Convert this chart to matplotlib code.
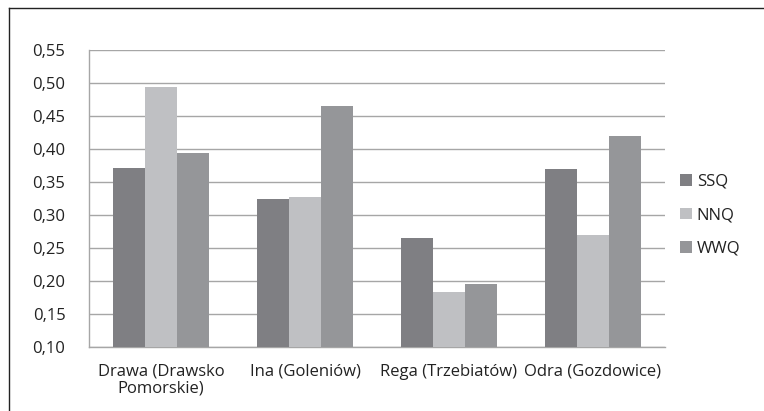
import numpy as np
import matplotlib
matplotlib.use('Agg')
import matplotlib.pyplot as plt
from matplotlib.lines import Line2D

# Data
categories = ['Drawa (Drawsko\nPomorskie)', 'Ina (Goleniów)', 'Rega (Trzebiatów)', 'Odra (Gozdowice)']
ssq = [0.371, 0.325, 0.265, 0.370]
nnq = [0.494, 0.328, 0.183, 0.270]
wwq = [0.394, 0.465, 0.196, 0.420]
series_names = ['SSQ', 'NNQ', 'WWQ']
colors = ['#7f7f83', '#bfc0c3', '#959699']
yticks = [0.10, 0.15, 0.20, 0.25, 0.30, 0.35, 0.40, 0.45, 0.50, 0.55]

plt.rcParams['font.family'] = ['Open Sans', 'DejaVu Sans']
txt = '#222222'

fig = plt.figure(figsize=(7.64, 4.11), dpi=100)
ax = fig.add_axes([89 / 764, 1 - 347 / 411, (665 - 89) / 764, (347 - 50) / 411])

x = np.arange(len(categories))
w = 0.222
for i, (vals, name) in enumerate(zip([ssq, nnq, wwq], series_names)):
    ax.bar(x + (i - 1) * w, np.array(vals) - 0.10, width=w, bottom=0.10,
           color=colors[i], label=name, zorder=3)

ax.set_xlim(-0.5, len(categories) - 0.5)
ax.set_ylim(0.10, 0.55)
ax.set_yticks(yticks)
ax.set_yticklabels([f'{t:.2f}'.replace('.', ',') for t in yticks], fontsize=12, color=txt)
ax.set_xticks(x)
ax.set_xticklabels(categories, fontsize=12, color=txt, linespacing=1.05)
ax.tick_params(axis='both', length=0)
ax.tick_params(axis='x', pad=12)
ax.tick_params(axis='y', pad=17)
ax.grid(axis='y', color='#a6a6a6', linewidth=1, zorder=0)
for s in ['top', 'right']:
    ax.spines[s].set_visible(False)
for s in ['left', 'bottom']:
    ax.spines[s].set_color('#a6a6a6')
    ax.spines[s].set_linewidth(1)

leg = ax.legend(loc='center left', bbox_to_anchor=(1.0, 0.443), frameon=False,
                fontsize=12, handlelength=0.7, handleheight=0.7, handletextpad=0.3,
                labelspacing=1.05)
for t in leg.get_texts():
    t.set_color(txt)

# outer chart border (left and top edges visible in the reference)
fig.add_artist(Line2D([8.5 / 764, 8.5 / 764], [0, 1 - 8.5 / 411], color=txt, linewidth=1))
fig.add_artist(Line2D([8.5 / 764, 1], [1 - 8.5 / 411, 1 - 8.5 / 411], color=txt, linewidth=1))

fig.savefig('out.png', dpi=100)
